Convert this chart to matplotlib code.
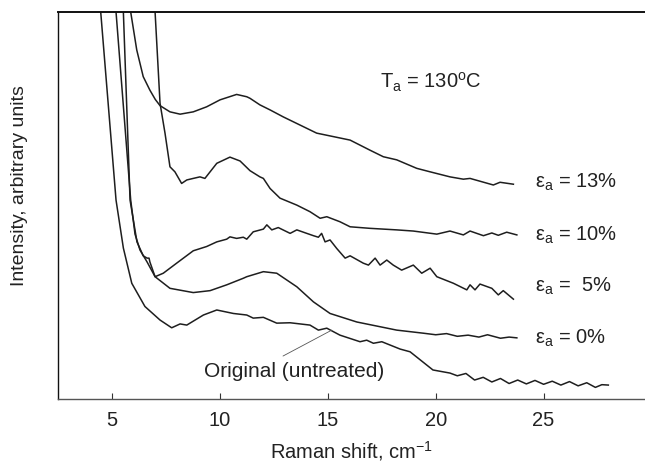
import matplotlib
matplotlib.use('Agg')
import matplotlib.pyplot as plt

plt.rcParams['font.family'] = 'Liberation Sans'
plt.rcParams['mathtext.fontset'] = 'custom'
plt.rcParams['mathtext.rm'] = 'Liberation Sans'
plt.rcParams['mathtext.it'] = 'Liberation Sans:italic'
plt.rcParams['mathtext.bf'] = 'Liberation Sans:bold'

# Raman spectra (x in cm^-1, intensity in arbitrary units)
x_orig = [4.35, 4.47, 5.18, 5.52, 5.91, 6.52, 7.22, 7.76, 8.15, 8.46, 9.23, 9.85,
          10.62, 11.24, 11.54, 12.01, 12.63, 13.25, 14.17, 14.56, 14.95, 15.56,
          16.49, 16.80, 17.11, 17.50, 18.35, 18.81, 19.87, 20.66, 21.0, 21.4, 21.8,
          22.2, 22.6, 23.0, 23.4, 23.8, 24.2, 24.6, 25.0, 25.4, 25.8, 26.2, 26.6,
          27.0, 27.4, 27.7, 28.0]
y_orig = [108, 100, 51.4, 39.0, 29.9, 23.9, 20.4, 18.4, 19.4, 19.1, 21.7, 23.0,
          22.1, 21.7, 20.9, 21.1, 19.6, 19.7, 19.1, 17.8, 18.3, 16.5,
          14.8, 15.2, 14.4, 14.8, 12.9, 12.2, 7.5, 6.7, 6.0, 6.6, 4.9,
          5.6, 4.4, 5.3, 4.0, 4.9, 3.9, 4.8, 3.8, 4.6, 3.6, 4.5, 3.4,
          4.2, 3.0, 3.7, 3.6]

x_e0 = [5.07, 5.18, 5.86, 6.06, 6.29, 6.62, 6.99, 7.68, 8.76, 9.54, 10.31, 11.08,
        11.24, 12.01, 12.63, 13.56, 14.33, 15.10, 16.34, 18.19, 19.43, 20.0, 20.5,
        21.0, 21.5, 22.0, 22.4, 23.0, 23.4, 23.76]
y_e0 = [108, 100, 51.4, 42.6, 38.5, 35.4, 31.6, 28.6, 27.5, 28.0, 29.5, 31.2,
        31.6, 32.9, 32.5, 29.0, 25.1, 22.1, 19.9, 17.8, 17.0, 16.6, 16.9,
        16.2, 16.5, 16.0, 16.6, 15.7, 16.0, 15.8]

x_e5 = [5.47, 5.52, 5.83, 6.15, 6.44, 6.62, 6.71, 6.75, 6.99, 7.37, 7.99, 8.76,
        9.38, 9.85, 10.31, 10.46, 10.77, 11.08, 11.24, 11.54, 12.01, 12.17, 12.40,
        12.70, 13.25, 13.56, 14.02, 14.33, 14.56, 14.71, 14.87, 15.10, 15.41,
        15.80, 16.03, 16.64, 16.88, 17.19, 17.42, 17.73, 18.03, 18.42, 18.96,
        19.35, 19.74, 20.05, 20.82, 21.44, 21.59, 21.82, 22.05, 22.60, 22.90,
        23.13, 23.60]
y_e5 = [108, 100, 51.4, 40.6, 37.0, 36.4, 36.4, 35.4, 31.6, 32.5, 35.1, 38.3,
        39.4, 40.6, 41.3, 41.9, 41.5, 41.8, 41.3, 43.2, 43.9, 45.0, 43.7,
        44.3, 42.8, 43.7, 42.8, 42.2, 41.8, 42.8, 40.6, 41.1, 38.9,
        36.4, 37.0, 35.1, 34.6, 36.4, 34.6, 35.9, 34.6, 33.3, 34.6,
        32.5, 33.8, 31.6, 29.9, 28.2, 29.5, 28.2, 29.7, 28.6, 26.9,
        28.0, 25.8]

x_e10 = [6.90, 6.99, 7.22, 7.45, 7.68, 7.91, 8.22, 8.46, 8.76, 9.07, 9.30, 9.85,
         10.46, 10.93, 11.39, 11.85, 12.01, 12.32, 12.78, 13.56, 14.17, 14.64,
         14.95, 15.56, 16.03, 16.95, 18.19, 18.96, 20.05, 20.66, 21.28, 21.59,
         22.21, 22.6, 22.9, 23.29, 23.76]
y_e10 = [108, 100, 76.4, 68.7, 60.0, 58.7, 55.7, 56.6, 57.0, 57.4, 57.0, 60.9,
         62.5, 61.5, 59.0, 57.4, 57.0, 54.4, 51.9, 50.1, 48.4, 46.7,
         47.1, 45.8, 44.5, 44.1, 43.7, 43.4, 42.6, 43.4, 42.4, 43.4,
         42.2, 42.9, 42.3, 43.1, 42.4]

x_e13 = [5.62, 5.86, 6.14, 6.44, 6.75, 7.0, 7.22, 7.68, 8.15, 8.76, 9.38, 10.00,
         10.77, 11.24, 11.39, 11.85, 12.32, 12.93, 14.48, 16.03, 16.95, 17.57,
         18.19, 19.12, 19.74, 20.66, 21.28, 21.59, 22.67, 22.98, 23.60]
y_e13 = [108, 100, 90.2, 83.3, 79.8, 77.4, 75.8, 74.2, 73.6, 74.2, 75.5, 77.3,
         78.7, 78.1, 77.7, 76.0, 74.7, 72.9, 68.7, 66.9, 64.3, 62.6,
         61.8, 59.6, 58.7, 57.4, 56.8, 57.0, 55.3, 56.0, 55.5]

labels = [r'$\mathrm{ε}_\mathrm{a}$ = 13%', r'$\mathrm{ε}_\mathrm{a}$ = 10%',
          r'$\mathrm{ε}_\mathrm{a}$ =  5%', r'$\mathrm{ε}_\mathrm{a}$ = 0%']
label_y = [56.1, 42.4, 29.0, 15.8]

ink = '#1e1e1e'
fig = plt.figure(figsize=(6.45, 4.65), dpi=100)
ax = fig.add_axes([58 / 645, 1 - 399 / 465, 1 - 58 / 645, 387 / 465])

for xs, ys in [(x_orig, y_orig), (x_e0, y_e0), (x_e5, y_e5), (x_e10, y_e10), (x_e13, y_e13)]:
    ax.plot(xs, ys, color=ink, lw=1.1)

ax.set_xlim(2.49, 29.7)
ax.set_ylim(0, 100)
ax.set_xticks([5, 10, 15, 20, 25])
ax.set_yticks([])
ax.tick_params(axis='x', direction='in', length=4.5, width=0.8, pad=9,
               labelsize=14.5, colors='#333333', labelcolor='#222222')
ax.spines['right'].set_visible(False)
ax.spines['top'].set_linewidth(1.4)
ax.spines['top'].set_color('#111111')
ax.spines['left'].set_linewidth(1.0)
ax.spines['left'].set_color('#111111')
ax.spines['bottom'].set_linewidth(1.0)
ax.spines['bottom'].set_color('#555555')

ax.set_xlabel('Raman shift, cm$^{-1}$', fontsize=14.5, color='#222222', labelpad=6)
fig.text(20 / 645, 1 - 186 / 465, 'Intensity, arbitrary units', rotation=90,
         ha='center', va='center', fontsize=14, color='#222222')

for lab, ly in zip(labels, label_y):
    ax.text(24.6, ly, lab, ha='left', va='center', fontsize=14.5, color='#222222')

ax.text(17.42, 81.9, r'T$_\mathrm{a}$ = 130$^\mathrm{o}$C', ha='left', va='center',
        fontsize=14.5, color='#222222')

ax.text(13.45, 7.0, 'Original (untreated)', ha='center', va='center',
        fontsize=15, color='#222222')
ax.annotate('', xy=(15.18, 17.8), xytext=(12.92, 11.1),
            arrowprops=dict(arrowstyle='-', lw=0.6, color='#555555',
                            shrinkA=0, shrinkB=0))

fig.savefig('out.png', dpi=100)
